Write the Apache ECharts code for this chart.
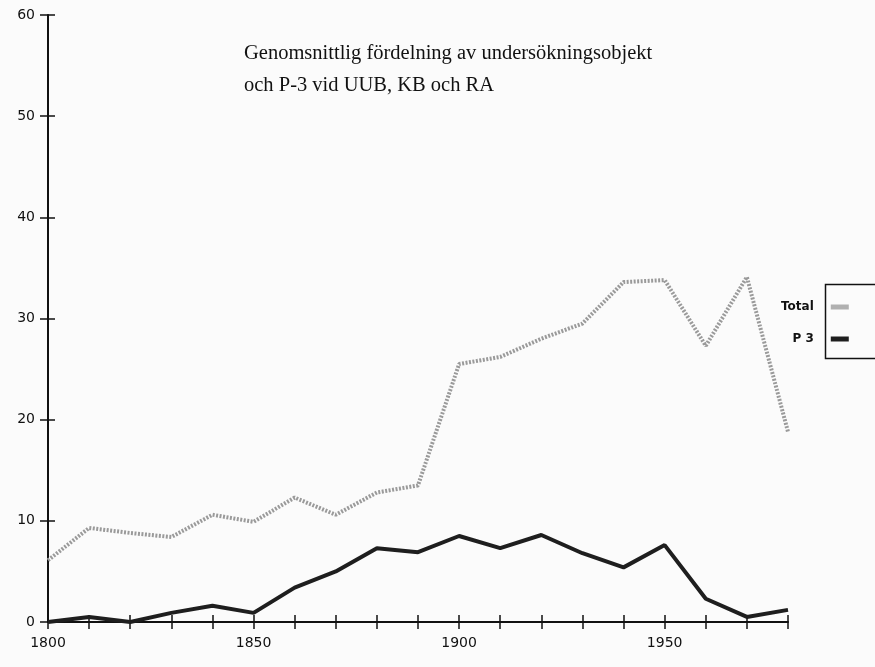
<!DOCTYPE html>
<html><head><meta charset="utf-8">
<script src="https://cdn.jsdelivr.net/npm/echarts@6/dist/echarts.min.js"></script>
<style>html,body{margin:0;padding:0;background:#fbfbfb}#c{width:875px;height:667px}</style>
</head><body><div id="c"></div>
<script>
const years = [1800,1810,1820,1830,1840,1850,1860,1870,1880,1890,1900,1910,1920,1930,1940,1950,1960,1970,1980];
const totalVals = [6.1,9.3,8.8,8.4,10.6,9.9,12.3,10.6,12.8,13.5,25.5,26.2,28.0,29.5,33.6,33.8,27.3,34.1,18.8];
const p3Vals = [0,0.5,0,0.9,1.6,0.9,3.4,5.0,7.3,6.9,8.5,7.3,8.6,6.8,5.4,7.6,2.3,0.5,1.2];
const xLabels = [1800,1850,1900,1950];
const yTicks = [0,10,20,30,40,50,60];
const titleLines = ['Genomsnittlig fördelning av undersökningsobjekt','och P-3 vid UUB, KB och RA'];
const seriesNames = ['Total','P 3'];

const chart = echarts.init(document.getElementById('c'));
const axisFont = {fontFamily:'DejaVu Sans', fontSize:14, color:'#111'};
chart.setOption({
  backgroundColor:'#fbfbfb',
  animation:false,
  grid: {left:48, right:87, top:15, bottom:45},
  title:{
    text: titleLines.join('\n'),
    left:239, top:33,
    textStyle:{fontFamily:'Liberation Serif', fontSize:20.5, fontWeight:'normal', color:'#111', lineHeight:32}
  },
  legend:{
    orient:'vertical', left:776, top:296, align:'right',
    itemWidth:18, itemHeight:5, itemGap:20,
    textStyle:{fontFamily:'DejaVu Sans', fontSize:12, color:'#111', fontWeight:'bold', padding:[0,12,0,0]},
    data:[{name:seriesNames[0], icon:'rect'},{name:seriesNames[1], icon:'rect'}]
  },
  graphic:[{type:'rect', left:823, top:282, shape:{width:60, height:74}, style:{fill:'none', stroke:'#111', lineWidth:1.5}}],
  xAxis:[{
    type:'value', min:1800, max:1980, interval:10,
    axisLine:{lineStyle:{color:'#111', width:2}},
    axisTick:{lineStyle:{color:'#111', width:1.5}, length:7},
    axisLabel:Object.assign({margin:14, formatter:v=> xLabels.includes(v)? String(v):''}, axisFont),
    splitLine:{show:false}
  },{
    type:'value', min:1800, max:1980, interval:10, position:'bottom',
    axisLine:{show:false},
    axisTick:{inside:true, lineStyle:{color:'#111', width:1.5}, length:7},
    axisLabel:{show:false}, splitLine:{show:false}
  }],
  yAxis:[{
    type:'value', min:0, max:60, interval:10,
    axisLine:{show:true, lineStyle:{color:'#111', width:2}},
    axisTick:{show:true, lineStyle:{color:'#111', width:1.5}, length:8},
    axisLabel:Object.assign({margin:13, formatter:v=> yTicks.includes(v)? String(v):''}, axisFont),
    splitLine:{show:false}
  },{
    type:'value', min:0, max:60, interval:10, position:'left',
    axisLine:{show:false},
    axisTick:{show:true, inside:true, lineStyle:{color:'#111', width:1.5}, length:7},
    axisLabel:{show:false}, splitLine:{show:false}
  }],
  series:[{
    name:seriesNames[0], type:'line', showSymbol:false, symbol:'none',
    data: years.map((y,i)=>[y,totalVals[i]]),
    lineStyle:{color:'#9a9a9a', width:4, type:[2,1.5]},
    itemStyle:{color:'#b0b0b0'}
  },{
    name:seriesNames[1], type:'line', showSymbol:false, symbol:'none',
    data: years.map((y,i)=>[y,p3Vals[i]]),
    lineStyle:{color:'#1e1e1e', width:4},
    itemStyle:{color:'#1e1e1e'}
  }]
});
</script></body></html>
